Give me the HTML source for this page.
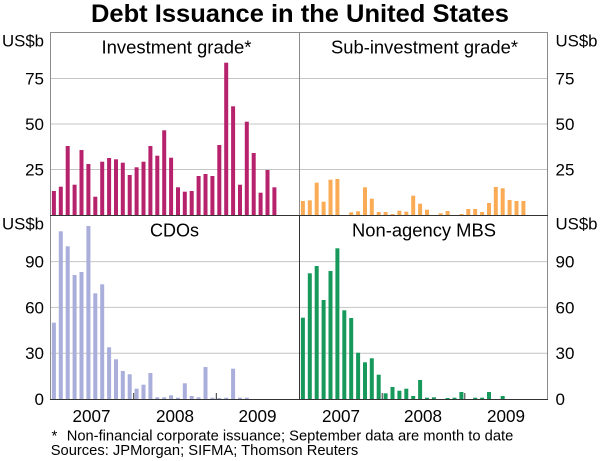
<!DOCTYPE html>
<html>
<head>
<meta charset="utf-8">
<style>
  html,body{margin:0;padding:0;background:#fff;}
  svg{display:block;}
  text{font-family:"Liberation Sans",Arial,sans-serif;fill:#000;}
</style>
</head>
<body>
<svg width="600" height="461" viewBox="0 0 600 461" xmlns="http://www.w3.org/2000/svg">
  <rect x="0" y="0" width="600" height="461" fill="#fff"/>

  <!-- Title -->
  <text x="300" y="22" text-anchor="middle" font-size="25" font-weight="bold" textLength="418" lengthAdjust="spacingAndGlyphs">Debt Issuance in the United States</text>

  <!-- Gridlines -->
  <g stroke="#c4c4c4" stroke-width="1">
    <line x1="51" y1="78.5" x2="548" y2="78.5"/>
    <line x1="51" y1="124" x2="548" y2="124"/>
    <line x1="51" y1="169.5" x2="548" y2="169.5"/>
    <line x1="51" y1="261.6" x2="548" y2="261.6"/>
    <line x1="51" y1="307.4" x2="548" y2="307.4"/>
    <line x1="51" y1="353.2" x2="548" y2="353.2"/>
  </g>

  <!-- Investment grade -->
  <g fill="#b7226d">
    <rect x="51.9" y="191" width="4" height="24"/>
    <rect x="58.8" y="186.7" width="4" height="28.3"/>
    <rect x="65.7" y="146" width="4" height="69"/>
    <rect x="72.6" y="184.7" width="4" height="30.3"/>
    <rect x="79.5" y="150" width="4" height="65"/>
    <rect x="86.4" y="164" width="4" height="51"/>
    <rect x="93.3" y="196.7" width="4" height="18.3"/>
    <rect x="100.2" y="161.7" width="4" height="53.3"/>
    <rect x="107.1" y="158" width="4" height="57"/>
    <rect x="114" y="159.3" width="4" height="55.7"/>
    <rect x="120.8" y="162.7" width="4" height="52.3"/>
    <rect x="127.7" y="175" width="4" height="40"/>
    <rect x="134.6" y="167.3" width="4" height="47.7"/>
    <rect x="141.5" y="161.7" width="4" height="53.3"/>
    <rect x="148.4" y="146" width="4" height="69"/>
    <rect x="155.3" y="155.7" width="4" height="59.3"/>
    <rect x="162.2" y="130.3" width="4" height="84.7"/>
    <rect x="169.1" y="157.7" width="4" height="57.3"/>
    <rect x="176" y="187.3" width="4" height="27.7"/>
    <rect x="182.8" y="191.7" width="4" height="23.3"/>
    <rect x="189.7" y="191" width="4" height="24"/>
    <rect x="196.6" y="176" width="4" height="39"/>
    <rect x="203.5" y="174" width="4" height="41"/>
    <rect x="210.4" y="176" width="4" height="39"/>
    <rect x="217.3" y="145" width="4" height="70"/>
    <rect x="224.2" y="62.7" width="4" height="152.3"/>
    <rect x="231.1" y="106.3" width="4" height="108.7"/>
    <rect x="238" y="184.7" width="4" height="30.3"/>
    <rect x="244.8" y="121.7" width="4" height="93.3"/>
    <rect x="251.7" y="153" width="4" height="62"/>
    <rect x="258.6" y="192.7" width="4" height="22.3"/>
    <rect x="265.5" y="170" width="4" height="45"/>
    <rect x="272.4" y="187.3" width="4" height="27.7"/>
  </g>

  <!-- Sub-investment grade -->
  <g fill="#fbab55">
    <rect x="300.9" y="201" width="4" height="14"/>
    <rect x="307.8" y="200.3" width="4" height="14.7"/>
    <rect x="314.7" y="182.7" width="4" height="32.3"/>
    <rect x="321.6" y="201.7" width="4" height="13.3"/>
    <rect x="328.5" y="179.7" width="4" height="35.3"/>
    <rect x="335.4" y="179" width="4" height="36"/>
    <rect x="349.2" y="212.3" width="4" height="2.7"/>
    <rect x="356.1" y="211.3" width="4" height="3.7"/>
    <rect x="363" y="187.3" width="4" height="27.7"/>
    <rect x="369.8" y="198.7" width="4" height="16.3"/>
    <rect x="376.7" y="212" width="4" height="3"/>
    <rect x="383.6" y="212" width="4" height="3"/>
    <rect x="390.5" y="214" width="4" height="1"/>
    <rect x="397.4" y="210.7" width="4" height="4.3"/>
    <rect x="404.3" y="211.7" width="4" height="3.3"/>
    <rect x="411.2" y="195.7" width="4" height="19.3"/>
    <rect x="418.1" y="203.7" width="4" height="11.3"/>
    <rect x="425" y="209.7" width="4" height="5.3"/>
    <rect x="438.7" y="213.3" width="4" height="1.7"/>
    <rect x="445.6" y="211" width="4" height="4"/>
    <rect x="459.4" y="214" width="4" height="1"/>
    <rect x="466.3" y="209" width="4" height="6"/>
    <rect x="473.2" y="209" width="4" height="6"/>
    <rect x="480.1" y="212" width="4" height="3"/>
    <rect x="487" y="203" width="4" height="12"/>
    <rect x="493.8" y="187" width="4" height="28"/>
    <rect x="500.7" y="188.3" width="4" height="26.7"/>
    <rect x="507.6" y="200" width="4" height="15"/>
    <rect x="514.5" y="201" width="4" height="14"/>
    <rect x="521.4" y="201" width="4" height="14"/>
  </g>

  <!-- CDOs -->
  <g fill="#a9aedb">
    <rect x="51.9" y="322.7" width="4" height="76.3"/>
    <rect x="58.8" y="231.3" width="4" height="167.7"/>
    <rect x="65.7" y="246.3" width="4" height="152.7"/>
    <rect x="72.6" y="275" width="4" height="124"/>
    <rect x="79.5" y="272" width="4" height="127"/>
    <rect x="86.4" y="226" width="4" height="173"/>
    <rect x="93.3" y="293.3" width="4" height="105.7"/>
    <rect x="100.2" y="284.3" width="4" height="114.7"/>
    <rect x="107.1" y="347.3" width="4" height="51.7"/>
    <rect x="114" y="359.3" width="4" height="39.7"/>
    <rect x="120.8" y="371" width="4" height="28"/>
    <rect x="127.7" y="374.3" width="4" height="24.7"/>
    <rect x="134.6" y="388.7" width="4" height="10.3"/>
    <rect x="141.5" y="384.7" width="4" height="14.3"/>
    <rect x="148.4" y="373" width="4" height="26"/>
    <rect x="155.3" y="397.3" width="4" height="1.7"/>
    <rect x="162.2" y="397.3" width="4" height="1.7"/>
    <rect x="169.1" y="395.3" width="4" height="3.7"/>
    <rect x="176" y="397.7" width="4" height="1.3"/>
    <rect x="182.8" y="383.3" width="4" height="15.7"/>
    <rect x="189.7" y="396" width="4" height="3"/>
    <rect x="196.6" y="397.3" width="4" height="1.7"/>
    <rect x="203.5" y="367" width="4" height="32"/>
    <rect x="210.4" y="397.7" width="4" height="1.3"/>
    <rect x="217.3" y="398" width="4" height="1"/>
    <rect x="224.2" y="397.7" width="4" height="1.3"/>
    <rect x="231.1" y="368.7" width="4" height="30.3"/>
    <rect x="238" y="397.7" width="4" height="1.3"/>
    <rect x="244.8" y="397.7" width="4" height="1.3"/>
  </g>

  <!-- Non-agency MBS -->
  <g fill="#17995c">
    <rect x="300.9" y="317.7" width="4" height="81.3"/>
    <rect x="307.8" y="273.3" width="4" height="125.7"/>
    <rect x="314.7" y="266" width="4" height="133"/>
    <rect x="321.6" y="300" width="4" height="99"/>
    <rect x="328.5" y="271" width="4" height="128"/>
    <rect x="335.4" y="248.3" width="4" height="150.7"/>
    <rect x="342.3" y="310.3" width="4" height="88.7"/>
    <rect x="349.2" y="318" width="4" height="81"/>
    <rect x="356.1" y="352.7" width="4" height="46.3"/>
    <rect x="363" y="362.3" width="4" height="36.7"/>
    <rect x="369.8" y="358.3" width="4" height="40.7"/>
    <rect x="376.7" y="374.7" width="4" height="24.3"/>
    <rect x="383.6" y="393.3" width="4" height="5.7"/>
    <rect x="390.5" y="387" width="4" height="12"/>
    <rect x="397.4" y="390.7" width="4" height="8.3"/>
    <rect x="404.3" y="388.7" width="4" height="10.3"/>
    <rect x="411.2" y="396" width="4" height="3"/>
    <rect x="418.1" y="380" width="4" height="19"/>
    <rect x="425" y="397.7" width="4" height="1.3"/>
    <rect x="431.9" y="397.3" width="4" height="1.7"/>
    <rect x="445.6" y="398" width="4" height="1"/>
    <rect x="452.5" y="397.7" width="4" height="1.3"/>
    <rect x="459.4" y="392" width="4" height="7"/>
    <rect x="473.2" y="397.7" width="4" height="1.3"/>
    <rect x="480.1" y="397.7" width="4" height="1.3"/>
    <rect x="487" y="392" width="4" height="7"/>
    <rect x="500.7" y="396" width="4" height="3"/>
  </g>

  <!-- Frame -->
  <g stroke="#8a8a8a" stroke-width="1" fill="none">
    <line x1="50.5" y1="32.5" x2="548" y2="32.5"/>
    <line x1="50.5" y1="32" x2="50.5" y2="399"/>
    <line x1="547.5" y1="32" x2="547.5" y2="399"/>
    <line x1="299.5" y1="32" x2="299.5" y2="215"/>
  </g>
  <g stroke="#333" stroke-width="1" fill="none">
    <line x1="299.5" y1="215" x2="299.5" y2="399"/>
    <line x1="50" y1="215.5" x2="548" y2="215.5"/>
    <line x1="50" y1="399.5" x2="548" y2="399.5"/>
    <!-- year ticks -->
    <line x1="133.7" y1="393" x2="133.7" y2="399"/>
    <line x1="216.3" y1="393" x2="216.3" y2="399"/>
    <line x1="382.2" y1="393" x2="382.2" y2="399"/>
    <line x1="464.8" y1="393" x2="464.8" y2="399"/>
  </g>

  <!-- Panel labels -->
  <g font-size="18" text-anchor="middle">
    <text x="176.5" y="53.5" textLength="150" lengthAdjust="spacingAndGlyphs">Investment grade*</text>
    <text x="424.5" y="53.5" textLength="187" lengthAdjust="spacingAndGlyphs">Sub-investment grade*</text>
    <text x="174.5" y="236.5" textLength="49" lengthAdjust="spacingAndGlyphs">CDOs</text>
    <text x="424" y="236.5" textLength="144" lengthAdjust="spacingAndGlyphs">Non-agency MBS</text>
  </g>

  <!-- Left axis labels -->
  <g font-size="17" text-anchor="end">
    <text x="44" y="46.5" textLength="42" lengthAdjust="spacingAndGlyphs">US$b</text>
    <text x="44" y="84.5">75</text>
    <text x="44" y="130">50</text>
    <text x="44" y="175.5">25</text>
    <text x="44" y="229.5" textLength="42" lengthAdjust="spacingAndGlyphs">US$b</text>
    <text x="44" y="267.6">90</text>
    <text x="44" y="313.4">60</text>
    <text x="44" y="359.2">30</text>
    <text x="44" y="405">0</text>
  </g>

  <!-- Right axis labels -->
  <g font-size="17" text-anchor="start">
    <text x="555.5" y="46.5" textLength="42" lengthAdjust="spacingAndGlyphs">US$b</text>
    <text x="555.5" y="84.5">75</text>
    <text x="555.5" y="130">50</text>
    <text x="555.5" y="175.5">25</text>
    <text x="555.5" y="229.5" textLength="42" lengthAdjust="spacingAndGlyphs">US$b</text>
    <text x="555.5" y="267.6">90</text>
    <text x="555.5" y="313.4">60</text>
    <text x="555.5" y="359.2">30</text>
    <text x="555.5" y="405">0</text>
  </g>

  <!-- X axis labels -->
  <g font-size="17.5" text-anchor="middle">
    <text x="91.5" y="422" textLength="38" lengthAdjust="spacingAndGlyphs">2007</text>
    <text x="175" y="422" textLength="38" lengthAdjust="spacingAndGlyphs">2008</text>
    <text x="257.5" y="422" textLength="38" lengthAdjust="spacingAndGlyphs">2009</text>
    <text x="341" y="422" textLength="38" lengthAdjust="spacingAndGlyphs">2007</text>
    <text x="423" y="422" textLength="38" lengthAdjust="spacingAndGlyphs">2008</text>
    <text x="506" y="422" textLength="38" lengthAdjust="spacingAndGlyphs">2009</text>
  </g>

  <!-- Footnotes -->
  <g font-size="15">
    <text x="51.5" y="440.5">*</text>
    <text x="66.7" y="440.5" textLength="446.6" lengthAdjust="spacingAndGlyphs">Non-financial corporate issuance; September data are month to date</text>
    <text x="50.7" y="455" textLength="307.6" lengthAdjust="spacingAndGlyphs">Sources: JPMorgan; SIFMA; Thomson Reuters</text>
  </g>
</svg>
</body>
</html>
